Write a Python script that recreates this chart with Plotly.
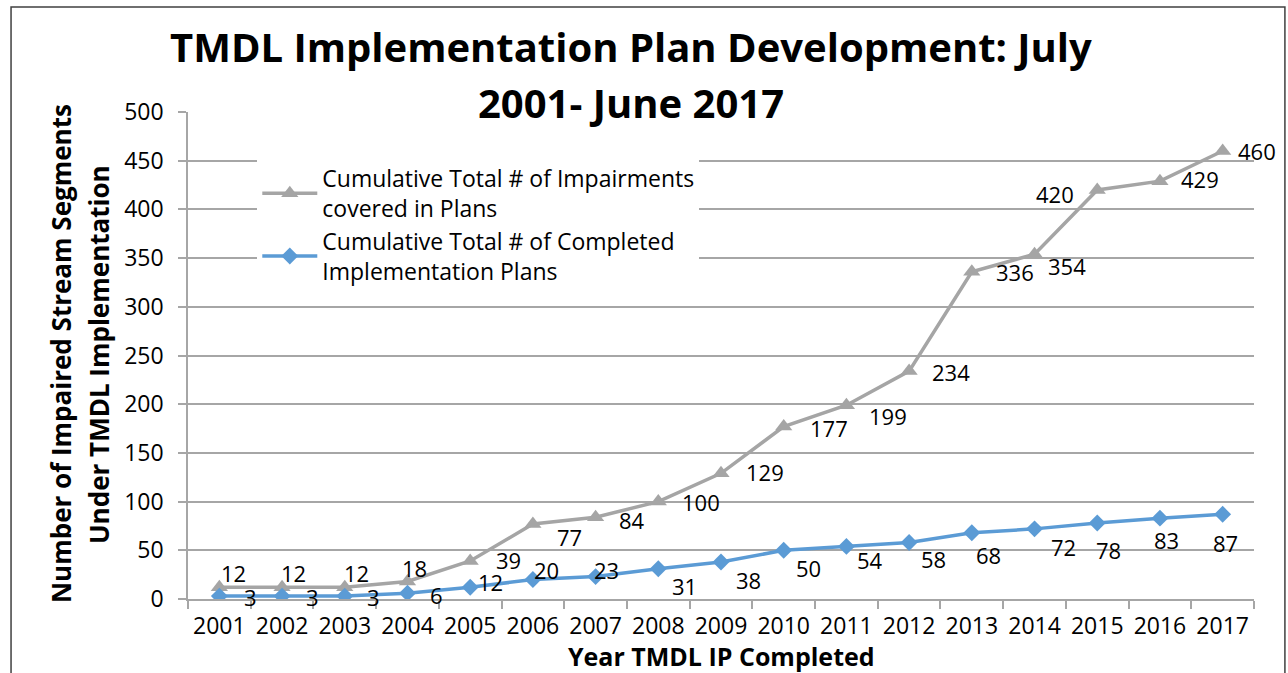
import plotly.graph_objects as go

# Years on the category axis
years = [str(y) for y in range(2001, 2018)]

# Cumulative totals per year
impairments_total = [12, 12, 12, 18, 39, 77, 84, 100, 129, 177, 199, 234, 336, 354, 420, 429, 460]
plans_total = [3, 3, 3, 6, 12, 20, 23, 31, 38, 50, 54, 58, 68, 72, 78, 83, 87]

# Data-label nudges in pixels (dx right, dy down) relative to each marker
impairments_label_dx = [14, 11, 12, 7, 38, 37, 36, 43, 44, 45, 42, 42, 43, 32, -42, 40, 34]
impairments_label_dy = [-14, -14, -14, -13, -1, 13, 3, 0, -1, 1, 11, 1, 0, 12, 4, -2, 0]
plans_label_dx = [31, 30, 29, 29, 20, 14, 11, 26, 27, 25, 24, 24, 17, 29, 11, 7, 3]
plans_label_dy = [1, 1, 1, 2, -5, -10, -7, 17, 18, 18, 14, 16, 22, 18, 27, 22, 29]

GRAY = "#A5A5A5"
BLUE = "#5B9BD5"
FONT = "Open Sans"

fig = go.Figure()
fig.add_trace(go.Scatter(
    x=years, y=impairments_total, mode="lines+markers",
    name="Cumulative Total # of Impairments<br>covered in Plans",
    line=dict(color=GRAY, width=3.5),
    marker=dict(symbol="triangle-up", size=15, color=GRAY),
))
fig.add_trace(go.Scatter(
    x=years, y=plans_total, mode="lines+markers",
    name="Cumulative Total # of Completed<br>Implementation Plans",
    line=dict(color=BLUE, width=3.5),
    marker=dict(symbol="diamond", size=13, color=BLUE),
))

label_font = dict(family=FONT, size=22, color="#000")
annotations = []
# category positions on the axis are the indices of the years
for i, (v, dx, dy) in enumerate(zip(impairments_total, impairments_label_dx, impairments_label_dy)):
    annotations.append(dict(x=i, y=v, xref="x", yref="y", text=str(v), showarrow=False,
                            xshift=dx, yshift=-dy, font=label_font, borderpad=0))
for i, (v, dx, dy) in enumerate(zip(plans_total, plans_label_dx, plans_label_dy)):
    annotations.append(dict(x=i, y=v, xref="x", yref="y", text=str(v), showarrow=False,
                            xshift=dx, yshift=-dy, font=label_font, borderpad=0))

# Titles
title_font = dict(family=FONT, size=40, color="#000")
axis_title_font = dict(family=FONT, size=26, color="#000")
annotations += [
    dict(x=0.4156, y=1.1335, xref="paper", yref="paper", xanchor="center", yanchor="middle",
         text="<b>TMDL Implementation Plan Development: July</b>", showarrow=False, font=title_font),
    dict(x=0.4156, y=1.0185, xref="paper", yref="paper", xanchor="center", yanchor="middle",
         text="<b>2001- June 2017</b>", showarrow=False, font=title_font),
    dict(x=-0.1191, y=0.503, xref="paper", yref="paper", xanchor="center", yanchor="middle",
         text="<b>Number of Impaired Stream Segments</b>", textangle=-90, showarrow=False,
         font=axis_title_font),
    dict(x=-0.0835, y=0.503, xref="paper", yref="paper", xanchor="center", yanchor="middle",
         text="<b>Under TMDL Implementation</b>", textangle=-90, showarrow=False,
         font=axis_title_font),
    dict(x=0.5, y=-0.1164, xref="paper", yref="paper", xanchor="center", yanchor="middle",
         text="<b>Year TMDL IP Completed</b>", showarrow=False,
         font=dict(family=FONT, size=25, color="#000"), borderpad=0),
]

fig.update_layout(
    width=1288, height=673,
    margin=dict(l=188, r=34, t=112, b=74),
    paper_bgcolor="white", plot_bgcolor="white",
    font=dict(family=FONT, size=22, color="#000"),
    showlegend=True,
    legend=dict(x=0.065, y=0.908, xanchor="left", yanchor="top",
                bgcolor="white", borderwidth=0, itemwidth=55,
                font=dict(family=FONT, size=23, color="#000"), tracegroupgap=0),
    annotations=annotations,
    shapes=[dict(type="rect", xref="paper", yref="paper",
                 x0=-0.166, x1=1.029, y0=-0.2, y1=1.2156,
                 line=dict(color="#404040", width=1.5), fillcolor="rgba(0,0,0,0)", layer="below")],
)

fig.update_xaxes(
    type="category", range=[-0.5, 16.5], tickson="boundaries",
    showgrid=False, showline=True, linecolor="#A6A6A6", linewidth=1.5,
    ticks="outside", ticklen=8, tickcolor="#A6A6A6", tickwidth=1.5,
    ticklabelstandoff=6,
    tickfont=dict(family=FONT, size=23, color="#000"),
)
fig.update_yaxes(
    range=[0, 500], dtick=50, showgrid=True, gridcolor="#A6A6A6", gridwidth=1.5,
    showline=True, linecolor="#A6A6A6", linewidth=1.5, zeroline=False,
    ticks="outside", ticklen=8, tickcolor="#A6A6A6", tickwidth=1.5,
    ticklabelstandoff=10,
    tickfont=dict(family=FONT, size=23, color="#000"),
)

fig.write_html("out.html")
